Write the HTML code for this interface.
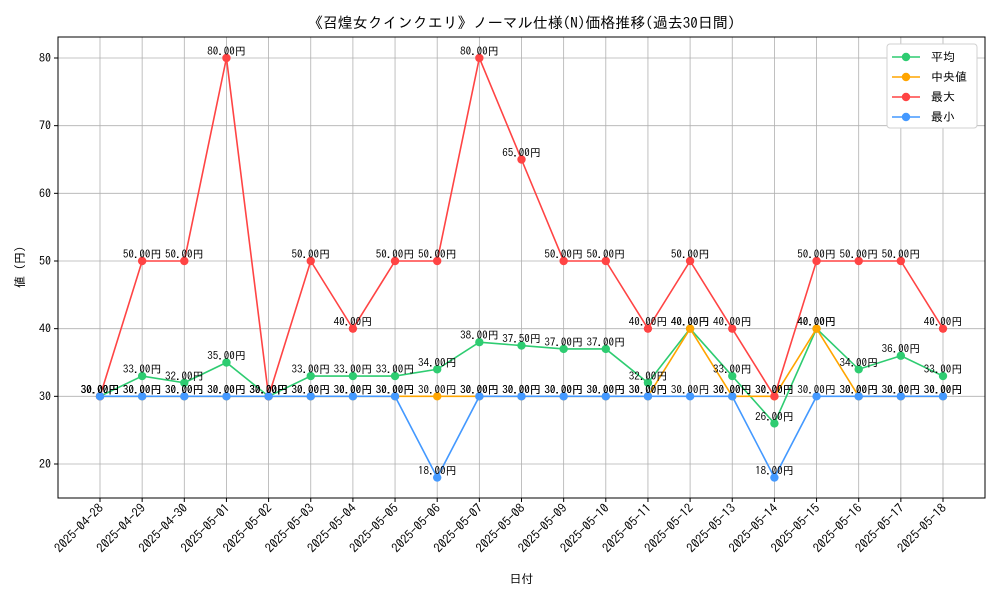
<!DOCTYPE html>
<html><head><meta charset="utf-8"><style>
body{margin:0;background:#fff}
svg{font-family:"IPAGothic","Noto Sans CJK JP",sans-serif}
</style></head><body>
<svg id="c" width="1000" height="600"></svg>
<script>
const dates=["2025-04-28","2025-04-29","2025-04-30","2025-05-01","2025-05-02","2025-05-03","2025-05-04","2025-05-05","2025-05-06","2025-05-07","2025-05-08","2025-05-09","2025-05-10","2025-05-11","2025-05-12","2025-05-13","2025-05-14","2025-05-15","2025-05-16","2025-05-17","2025-05-18"];
const avgVals=[30,33,32,35,30,33,33,33,34,38,37.5,37,37,32,40,33,26,40,34,36,33];
const medVals=[30,30,30,30,30,30,30,30,30,30,30,30,30,30,40,30,30,40,30,30,30];
const maxVals=[30,50,50,80,30,50,40,50,50,80,65,50,50,40,50,40,30,50,50,50,40];
const minVals=[30,30,30,30,30,30,30,30,18,30,30,30,30,30,30,30,18,30,30,30,30];
const yTicks=[20,30,40,50,60,70,80];
const series=[["平均",avgVals,"#2ecc71","avg"],["中央値",medVals,"#ffa500","median"],["最大",maxVals,"#ff4444","max"],["最小",minVals,"#4499ff","min"]];
const NS="http://www.w3.org/2000/svg",svg=document.getElementById('c');
const L=58,R=985,T=37,B=498;
const x=i=>100+i*(943-100)/(dates.length-1);
const y=v=>464-(v-20)*(464-58)/60;
function el(t,a,p){const e=document.createElementNS(NS,t);for(const k in a)e.setAttribute(k,a[k]);(p||svg).appendChild(e);return e;}
function tx(s,a,p){const e=el('text',a,p);e.textContent=s;return e;}
const grid=el('g',{});
dates.forEach((d,i)=>{el('line',{x1:x(i),x2:x(i),y1:T,y2:B,stroke:'#b0b0b0','stroke-width':0.8},grid);
el('line',{x1:x(i),x2:x(i),y1:B,y2:B+4,stroke:'#000'},grid);
const t=tx(d,{x:x(i)+4,y:B+11,'font-size':12.5,'text-anchor':'end',transform:`rotate(-45 ${x(i)+4} ${B+11})`});
});
yTicks.forEach(v=>{el('line',{x1:L,x2:R,y1:y(v),y2:y(v),stroke:'#b0b0b0','stroke-width':0.8},grid);
el('line',{x1:L-4,x2:L,y1:y(v),y2:y(v),stroke:'#000'},grid);
const t=tx(v,{x:L-7,y:y(v)+4,'font-size':12,'text-anchor':'end'});
});
series.forEach(s=>{const g=el('g',{});
el('polyline',{points:s[1].map((v,i)=>x(i)+','+y(v)).join(' '),fill:'none',stroke:s[2],'stroke-width':1.6},g);
s[1].forEach((v,i)=>{const c=el('circle',{cx:x(i),cy:y(v),r:4.2,fill:s[2]},g);});});
series.forEach(s=>{s[1].forEach((v,i)=>{const t=tx(v.toFixed(2)+'円',{x:x(i),y:y(v)-3,'font-size':11,'text-anchor':'middle'});});});
const f=el('rect',{x:L,y:T,width:R-L,height:B-T,fill:'none',stroke:'#000','stroke-width':1});
let t=tx('《召煌女クインクエリ》ノーマル仕様(N)価格推移(過去30日間)',{x:(L+R)/2,y:28,'font-size':15,'text-anchor':'middle'});
t=tx('日付',{x:(L+R)/2,y:583,'font-size':12,'text-anchor':'middle'});
t=tx('値 (円)',{x:24,y:267,'font-size':12,'text-anchor':'middle',transform:'rotate(-90 24 267)'});
const lg=el('g',{});
el('rect',{x:887,y:44,width:90,height:84,rx:3,fill:'#fff',stroke:'#d0d0d0'},lg);
series.forEach((s,k)=>{const yy=57+k*20;const e=el('g',{},lg);
el('line',{x1:892,x2:920,y1:yy,y2:yy,stroke:s[2],'stroke-width':1.6},e);el('circle',{cx:906,cy:yy,r:4.2,fill:s[2]},e);
tx(s[0],{x:931,y:yy+4,'font-size':12},e);});
</script></body></html>
